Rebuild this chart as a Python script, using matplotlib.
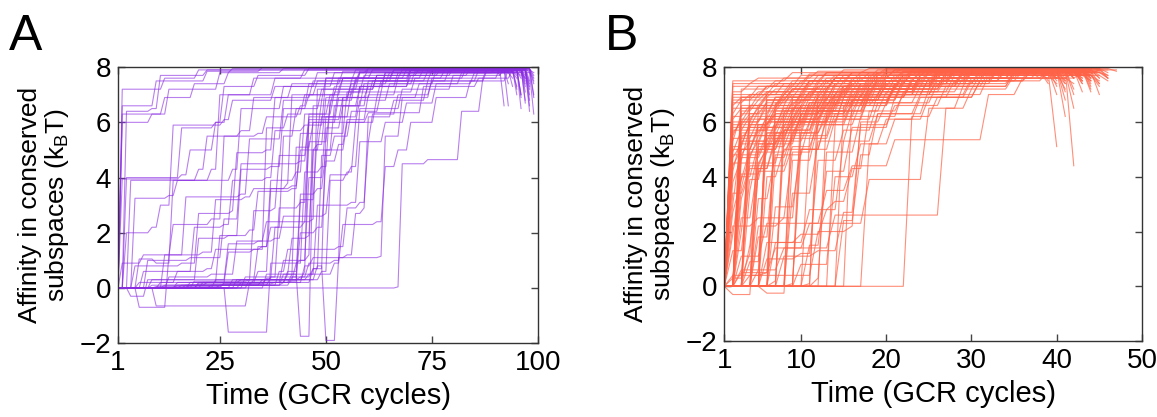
import matplotlib
matplotlib.use('Agg')
import matplotlib.pyplot as plt

plt.rcParams['font.family'] = ['Liberation Sans', 'DejaVu Sans']
plt.rcParams['mathtext.default'] = 'regular'

# each trajectory: (cycle, affinity) knots, value is held until the next knot's ramp
traj_a = [
    [(1, 0), (2, 6.3), (13, 7.2), (25, 7.8), (28, 7.95), (96, 6.9)],
    [(1, 0), (2, 6.6), (10, 7.5), (22, 7.85), (35, 7.98), (98, 7.5)],
    [(1, 0), (2, 3.95), (16, 4.1), (18, 5.0), (24, 6.0), (27, 7.0), (33, 7.6), (45, 7.9), (93, 6.6)],
    [(1, 0), (5, 3.25), (13, 3.35), (15, 3.9), (28, 4.3), (30, 6.5), (40, 7.3), (52, 7.8), (99, 6.3)],
    [(1, 0), (6, 1.05), (10, 0.9), (14, 3.9), (23, 4.3), (25, 7.0), (38, 7.6), (60, 7.95), (95, 7.2)],
    [(1, 0), (6, -0.7), (12, -0.7), (13, 1.2), (17, 3.3), (30, 3.4), (32, 5.4), (40, 6.8), (50, 7.6), (70, 7.95), (97, 7.4)],
    [(1, 0), (10, -0.65), (31, -0.65), (32, 0.2), (42, 0.25), (44, 3.2), (48, 5.6), (55, 7.1), (64, 7.8), (90, 7.95), (98, 6.8)],
    [(1, 0), (27, -1.6), (36, -1.6), (37, 0.9), (44, 1.0), (46, 4.0), (50, 6.2), (58, 7.3), (70, 7.9), (96, 7.0)],
    [(1, 0), (20, 0.2), (42, 0.5), (44, -1.75), (46, -1.75), (47, 5.0), (52, 6.6), (60, 7.5), (75, 7.9), (97, 7.7)],
    [(1, 0), (18, 0.1), (35, 0.3), (48, 0.8), (50, -1.9), (52, -1.9), (53, 1.1), (63, 1.15), (64, 5.5), (68, 6.9), (75, 7.6), (88, 7.95), (99, 7.6)],
    [(1, 0), (67, 0.04), (68, 4.5), (74, 4.65), (82, 6.4), (87, 7.6), (94, 7.9), (98, 7.3)],
    [(1, 0), (8, 1.0), (18, 1.1), (26, 2.5), (30, 4.5), (44, 4.6), (46, 6.0), (60, 6.35), (73, 7.3), (86, 7.6), (91, 7.95), (97, 6.7)],
    [(1, 0), (3, 6.4), (9, 6.5), (11, 7.7), (22, 7.9), (92, 6.6)],
    [(1, 0), (12, 0.1), (22, 0.2), (25, 1.9), (32, 2.1), (34, 3.5), (42, 3.6), (44, 5.6), (49, 6.8), (56, 7.5), (66, 7.9), (95, 7.0)],
    [(1, 0), (15, 0.2), (30, 0.3), (33, 2.8), (38, 2.9), (39, 4.8), (46, 6.2), (53, 7.2), (62, 7.7), (80, 7.95), (96, 7.8)],
    [(1, 0), (5, 0.8), (16, 0.9), (20, 2.7), (28, 2.8), (29, 4.9), (36, 5.0), (38, 6.9), (47, 7.5), (57, 7.9), (93, 7.4)],
    [(1, 0), (7, 0.6), (22, 0.7), (24, 1.4), (35, 1.5), (37, 3.9), (43, 4.2), (45, 6.3), (52, 7.1), (59, 7.7), (72, 7.95), (99, 7.0)],
    [(1, 0), (20, 0.15), (36, 0.35), (38, 2.2), (45, 2.4), (46, 5.3), (51, 6.6), (58, 7.3), (67, 7.8), (94, 7.6)],
    [(1, 0), (3, 2.0), (9, 2.2), (11, 3.0), (14, 5.9), (26, 6.1), (28, 6.8), (38, 7.3), (48, 7.8), (60, 7.95), (97, 7.1)],
    [(1, 0), (4, 3.9), (18, 3.9), (20, 4.3), (22, 5.5), (30, 5.7), (33, 6.9), (42, 7.4), (54, 7.85), (98, 7.2)],
    [(1, 0), (11, 0.2), (25, 0.2), (27, 1.3), (33, 1.4), (36, 5.8), (41, 6.3), (45, 7.0), (53, 7.6), (68, 7.9), (96, 6.5)],
    [(1, 0), (16, 0.1), (40, 0.5), (42, 1.8), (46, 1.9), (47, 5.0), (49, 6.2), (56, 7.2), (62, 7.7), (77, 7.95), (99, 7.7)],
    [(1, 0), (19, 0.25), (32, 0.3), (34, 1.5), (37, 2.2), (40, 5.5), (43, 6.5), (49, 7.2), (58, 7.8), (93, 7.9)],
    [(1, 0), (24, 0.3), (44, 0.4), (46, 0.9), (52, 1.0), (54, 6.9), (60, 7.3), (70, 7.7), (84, 7.95), (97, 7.5)],
    [(1, 0), (14, 0.0), (30, 0.2), (41, 0.6), (44, 3.4), (48, 3.6), (50, 5.0), (55, 6.0), (58, 6.8), (65, 7.4), (76, 7.9), (98, 6.6)],
    [(1, 0), (12, 1.2), (21, 1.3), (24, 3.2), (31, 3.3), (33, 3.6), (41, 3.8), (42, 7.0), (48, 7.5), (58, 7.85), (95, 7.3)],
    [(1, 0), (9, 0.3), (27, 1.6), (34, 1.7), (36, 2.4), (47, 2.5), (48, 7.2), (54, 7.6), (66, 7.9), (99, 7.8)],
    [(1, 0), (17, 0.1), (39, 0.6), (41, 1.4), (53, 1.5), (55, 2.9), (58, 3.1), (60, 5.3), (64, 6.0), (69, 6.7), (76, 7.4), (85, 7.8), (97, 7.6)],
    [(1, 0), (21, 0.2), (45, 0.8), (47, 1.1), (55, 1.2), (57, 2.7), (59, 2.9), (60, 6.2), (66, 6.8), (74, 7.5), (86, 7.9), (96, 7.0)],
    [(1, 0), (13, 0.4), (23, 0.5), (29, 1.7), (38, 1.8), (40, 2.6), (50, 2.7), (51, 4.1), (56, 4.4), (58, 6.5), (68, 7.2), (80, 7.7), (92, 7.95), (99, 6.9)],
    [(1, 0), (2, 0.9), (7, 1.2), (14, 2.3), (23, 2.5), (26, 5.5), (34, 5.6), (36, 6.2), (44, 6.6), (46, 7.4), (58, 7.8), (95, 7.6)],
    [(1, 0), (3, 4.0), (12, 4.0), (16, 5.8), (24, 6.0), (26, 7.3), (34, 7.7), (46, 7.95), (97, 7.9)],
    [(1, 0), (2, 7.2), (12, 7.6), (20, 7.9), (94, 7.3)],
    [(1, 0), (29, 0.3), (49, 0.6), (51, 3.9), (55, 4.2), (57, 6.0), (62, 6.9), (72, 7.4), (82, 7.8), (96, 7.7)],
    [(1, 0), (23, 0.1), (42, 0.4), (44, 2.0), (48, 2.2), (50, 4.6), (53, 5.2), (55, 6.1), (60, 7.0), (67, 7.6), (78, 7.9), (98, 7.4)],
    [(1, 0), (31, 0.4), (47, 0.7), (49, 4.8), (52, 5.5), (56, 6.4), (63, 7.1), (71, 7.6), (83, 7.95), (97, 6.8)],
    [(1, 0), (6, 0.2), (15, 0.6), (19, 2.2), (26, 2.3), (28, 3.9), (36, 4.0), (38, 5.7), (45, 5.9), (50, 7.6), (61, 7.9), (99, 7.5)],
    [(1, 0), (10, 0.05), (26, 0.15), (38, 0.2), (40, 1.0), (46, 1.2), (47, 6.6), (52, 7.3), (64, 7.8), (80, 7.95), (94, 7.8)],
    [(1, 0), (9, 0.1), (33, 0.3), (46, 0.5), (48, 3.0), (56, 3.1), (58, 5.3), (61, 6.3), (67, 7.0), (75, 7.5), (88, 7.9), (99, 7.4)],
    [(1, 0), (2, 6.0), (9, 6.3), (12, 6.9), (19, 7.4), (27, 7.8), (40, 7.95), (91, 7.7)],
    [(1, 0), (4, -0.3), (8, 0.3), (20, 1.8), (27, 1.9), (30, 4.3), (37, 4.4), (40, 6.5), (46, 7.0), (54, 7.6), (69, 7.9), (97, 7.6)],
    [(1, 0), (36, 0.5), (52, 0.9), (54, 2.3), (62, 2.4), (64, 4.4), (67, 5.0), (70, 6.0), (76, 6.9), (84, 7.5), (93, 7.9), (98, 6.4)],
    [(1, 0), (25, 0.1), (40, 0.2), (47, 0.7), (50, 5.8), (54, 6.6), (59, 7.4), (71, 7.85), (96, 7.6)],
    [(1, 0), (18, 0.2), (34, 0.6), (37, 3.6), (42, 3.7), (44, 5.0), (48, 5.2), (50, 6.9), (56, 7.4), (65, 7.8), (92, 7.9)],
    [(1, 0), (28, 0.3), (43, 0.9), (45, 4.2), (49, 4.4), (51, 6.8), (57, 7.5), (70, 7.9), (98, 7.0)],
    [(1, 0), (26, 0.2), (41, 0.5), (43, 5.1), (47, 6.0), (53, 6.9), (61, 7.5), (74, 7.85), (95, 7.7)],
    [(1, 0), (32, 0.3), (45, 0.6), (46, 6.3), (51, 7.0), (57, 7.6), (73, 7.95), (98, 7.8)],
    [(1, 0), (15, 0.1), (37, 0.4), (39, 2.9), (44, 3.1), (46, 6.1), (54, 6.9), (63, 7.5), (79, 7.9), (97, 7.3)],
]

traj_b = [
    [(1, 0), (2, 7.5), (9, 7.8), (18, 7.95), (41, 7.7)],
    [(1, 0), (2, 6.9), (5, 7.3), (12, 7.7), (25, 7.9), (43, 7.4)],
    [(1, 0), (2, 6.2), (4, 6.6), (8, 7.1), (14, 7.6), (22, 7.85), (40, 7.6)],
    [(1, 0), (2, 5.6), (3, 6.0), (6, 6.8), (11, 7.4), (19, 7.8), (44, 7.5)],
    [(1, 0), (2, 5.0), (5, 5.9), (7, 6.5), (13, 7.2), (20, 7.6), (30, 7.9), (42, 7.2)],
    [(1, 0), (2, 4.8), (4, 5.3), (9, 6.4), (15, 7.1), (24, 7.7), (39, 7.8)],
    [(1, 0), (2, 4.2), (3, 5.5), (8, 6.2), (12, 6.9), (18, 7.5), (28, 7.85), (45, 7.0)],
    [(1, 0), (2, 6.5), (6, 6.9), (10, 7.3), (17, 7.7), (27, 7.95), (46, 7.8)],
    [(1, 0), (2, 5.9), (7, 6.3), (9, 6.9), (16, 7.3), (21, 7.7), (35, 7.9), (41, 6.2)],
    [(1, 0), (2, 7.1), (4, 7.4), (11, 7.75), (20, 7.95), (38, 7.8)],
    [(1, 0), (3, 4.6), (4, 5.8), (8, 6.6), (15, 7.3), (26, 7.8), (40, 5.1)],
    [(1, 0), (3, 5.3), (6, 6.1), (10, 6.8), (14, 7.4), (23, 7.85), (43, 7.6)],
    [(1, 0), (3, 6.4), (5, 6.8), (9, 7.2), (13, 7.6), (19, 7.9), (42, 4.4)],
    [(1, 0), (3, 3.6), (4, 4.9), (7, 5.6), (11, 6.4), (17, 7.0), (25, 7.6), (33, 7.95), (44, 7.3)],
    [(1, 0), (3, 2.5), (5, 4.5), (8, 5.7), (12, 6.6), (18, 7.3), (29, 7.8), (41, 7.5)],
    [(1, 0), (2, 1.3), (4, 3.9), (6, 5.2), (10, 6.3), (16, 7.1), (24, 7.6), (37, 7.9), (43, 7.7)],
    [(1, 0), (2, -0.3), (4, -0.3), (5, 4.4), (9, 5.5), (14, 6.7), (21, 7.4), (31, 7.9), (42, 7.6)],
    [(1, 0), (2, 0.3), (4, 1.2), (5, 5.1), (7, 6.0), (12, 7.0), (20, 7.7), (40, 7.4)],
    [(1, 0), (5, 3.2), (7, 4.8), (11, 6.0), (15, 6.9), (22, 7.5), (32, 7.9), (45, 7.6)],
    [(1, 0), (4, 0.9), (6, 5.8), (9, 6.5), (13, 7.1), (19, 7.6), (27, 7.9), (44, 7.8)],
    [(1, 0), (6, 4.0), (8, 5.0), (13, 6.2), (17, 7.0), (26, 7.6), (36, 7.9), (47, 7.9)],
    [(1, 0), (5, 1.8), (7, 5.4), (10, 6.2), (14, 6.9), (23, 7.5), (34, 7.85), (42, 6.5)],
    [(1, 0), (6, -0.25), (8, -0.25), (9, 4.6), (12, 5.9), (16, 6.7), (21, 7.3), (30, 7.8), (43, 7.7)],
    [(1, 0), (7, 2.9), (10, 5.0), (13, 6.1), (18, 7.0), (25, 7.6), (35, 7.9), (41, 7.5)],
    [(1, 0), (7, 0.2), (8, 5.7), (11, 6.5), (15, 7.2), (22, 7.7), (45, 7.4)],
    [(1, 0), (9, 3.4), (12, 5.3), (16, 6.4), (20, 7.1), (28, 7.7), (46, 7.5)],
    [(1, 0), (9, 0.1), (10, 5.0), (14, 6.1), (19, 7.0), (26, 7.5), (33, 7.9), (40, 7.6)],
    [(1, 0), (11, 1.5), (13, 4.2), (16, 5.8), (21, 6.9), (28, 7.5), (37, 7.85), (44, 7.6)],
    [(1, 0), (11, 0.1), (12, 6.0), (16, 6.8), (22, 7.4), (30, 7.8), (42, 7.7)],
    [(1, 0), (12, 0.3), (13, 4.9), (17, 6.2), (22, 7.1), (29, 7.6), (43, 7.8)],
    [(1, 0), (15, 2.4), (17, 4.8), (19, 6.3), (25, 7.2), (31, 7.7), (41, 7.4)],
    [(1, 0), (3, 0.6), (8, 1.4), (14, 2.6), (27, 6.5), (30, 7.2), (35, 7.7), (44, 7.5)],
    [(1, 0), (18, 5.2), (21, 6.1), (25, 6.9), (30, 7.5), (37, 7.9), (45, 7.6)],
    [(1, 0), (23, 6.2), (26, 6.9), (31, 7.5), (36, 7.85), (44, 7.7)],
    [(1, 0), (3, 1.1), (6, 2.3), (13, 3.5), (16, 4.4), (21, 5.35), (32, 7.0), (36, 7.6), (42, 7.8)],
    [(1, 0), (3, 0.5), (7, 1.4), (11, 2.3), (18, 3.9), (25, 6.5), (29, 7.3), (35, 7.8), (41, 7.2)],
    [(1, 0), (2, 2.2), (5, 2.5), (9, 4.9), (12, 6.2), (16, 6.6), (21, 7.3), (27, 7.8), (39, 7.9)],
    [(1, 0), (2, 3.0), (3, 5.4), (5, 6.1), (10, 6.6), (14, 7.0), (20, 7.5), (26, 7.9), (43, 7.1)],
    [(1, 0), (2, 5.3), (3, 6.3), (6, 6.7), (9, 7.0), (15, 7.5), (24, 7.8), (40, 7.7)],
    [(1, 0), (2, 4.5), (6, 5.0), (8, 5.9), (11, 6.7), (17, 7.4), (28, 7.9), (42, 7.0)],
    [(1, 0), (2, 6.7), (4, 7.0), (7, 7.4), (13, 7.8), (33, 7.95), (46, 7.6)],
    [(1, 0), (2, 5.8), (5, 6.4), (8, 6.8), (12, 7.3), (19, 7.7), (31, 7.9), (41, 6.8)],
    [(1, 0), (2, 3.8), (3, 4.7), (5, 5.5), (9, 6.0), (13, 6.8), (20, 7.4), (29, 7.85), (44, 7.4)],
    [(1, 0), (2, 7.3), (8, 7.6), (15, 7.9), (39, 7.5)],
    [(1, 0), (3, 5.9), (4, 6.3), (7, 6.9), (11, 7.5), (18, 7.8), (42, 7.9)],
    [(1, 0), (3, 4.1), (6, 4.9), (9, 5.4), (12, 6.4), (18, 7.2), (26, 7.7), (40, 7.6)],
    [(1, 0), (3, 6.9), (7, 7.2), (14, 7.6), (21, 7.9), (45, 7.7)],
    [(1, 0), (3, 2.0), (4, 4.8), (6, 5.6), (10, 6.1), (14, 6.8), (22, 7.6), (38, 7.9)],
    [(1, 0), (4, 5.5), (6, 6.2), (11, 6.9), (16, 7.4), (25, 7.85), (43, 7.5)],
    [(1, 0), (4, 6.6), (8, 7.0), (12, 7.5), (20, 7.85), (41, 7.8)],
    [(1, 0), (4, 1.5), (5, 4.2), (9, 5.1), (12, 5.9), (15, 6.9), (23, 7.5), (34, 7.9), (44, 7.2)],
    [(1, 0), (5, 0.6), (6, 6.0), (10, 6.6), (15, 7.2), (24, 7.7), (39, 7.6)],
    [(1, 0), (5, 5.2), (8, 5.8), (10, 6.5), (14, 7.3), (22, 7.8), (43, 7.9)],
    [(1, 0), (5, 2.2), (8, 2.5), (10, 5.6), (13, 6.4), (18, 7.1), (27, 7.6), (42, 7.4)],
    [(1, 0), (6, 6.8), (9, 7.2), (14, 7.6), (23, 7.9), (46, 7.7)],
    [(1, 0), (6, 1.0), (10, 1.2), (12, 4.6), (15, 5.7), (19, 6.7), (24, 7.3), (32, 7.8), (43, 7.6)],
    [(1, 0), (7, 5.9), (10, 6.4), (14, 7.0), (20, 7.5), (30, 7.9), (41, 7.1)],
    [(1, 0), (7, 1.6), (10, 1.9), (13, 2.8), (15, 5.3), (19, 6.3), (24, 7.0), (32, 7.7), (45, 7.3)],
    [(1, 0), (8, 6.4), (12, 6.9), (17, 7.4), (26, 7.85), (42, 7.8)],
    [(1, 0), (8, 1.1), (12, 1.3), (15, 2.7), (17, 5.9), (21, 6.6), (27, 7.3), (35, 7.8), (40, 7.6)],
    [(1, 0), (9, 6.1), (13, 6.6), (18, 7.2), (27, 7.7), (44, 7.9)],
    [(1, 0), (10, 0.8), (14, 4.0), (17, 5.2), (20, 6.1), (24, 6.9), (31, 7.5), (39, 7.85), (45, 7.4)],
    [(1, 0), (10, 5.6), (13, 6.2), (18, 6.9), (23, 7.4), (31, 7.8), (43, 7.5)],
    [(1, 0), (4, 0.4), (12, 2.0), (16, 2.2), (17, 6.0), (20, 6.7), (26, 7.4), (33, 7.85), (42, 7.7)],
    [(1, 0), (13, 6.3), (16, 6.8), (21, 7.3), (29, 7.75), (45, 7.9)],
    [(1, 0), (6, 1.6), (11, 2.8), (14, 3.1), (16, 4.3), (18, 6.4), (22, 7.0), (30, 7.6), (39, 7.9), (44, 7.1)],
    [(1, 0), (15, 6.6), (19, 7.0), (24, 7.5), (33, 7.85), (46, 7.6)],
    [(1, 0), (2, 6.1), (3, 6.5), (5, 7.0), (9, 7.4), (16, 7.8), (37, 7.9)],
    [(1, 0), (2, 4.9), (3, 5.7), (7, 6.3), (10, 7.0), (18, 7.6), (30, 7.95), (41, 7.8)],
    [(1, 0), (2, 6.0), (4, 6.5), (6, 7.0), (11, 7.5), (23, 7.9), (44, 7.6)],
    [(1, 0), (2, 5.4), (4, 5.8), (7, 6.4), (10, 7.1), (16, 7.6), (28, 7.9), (40, 7.7)],
    [(1, 0), (3, 5.0), (5, 5.7), (8, 6.3), (13, 7.0), (19, 7.6), (32, 7.9), (42, 7.6)],
    [(1, 0), (3, 3.2), (4, 4.3), (7, 5.3), (10, 6.0), (14, 6.6), (21, 7.4), (35, 7.85), (43, 7.7)],
    [(1, 0), (4, 4.7), (6, 5.4), (9, 6.1), (13, 6.9), (19, 7.5), (30, 7.8), (41, 7.9)],
    [(1, 0), (2, 0.4), (6, 0.5), (7, 6.4), (10, 6.8), (15, 7.3), (25, 7.8), (44, 7.7)],
    [(1, 0), (2, 7.0), (6, 7.3), (10, 7.7), (26, 7.95), (40, 7.3)],
    [(1, 0), (3, 6.0), (5, 6.6), (10, 7.0), (15, 7.3), (22, 7.7), (43, 7.8)],
    [(1, 0), (2, 6.3), (3, 6.8), (6, 7.1), (10, 7.5), (17, 7.8), (29, 7.95), (42, 7.9)],
    [(1, 0), (2, 5.1), (4, 6.0), (6, 6.6), (9, 7.2), (14, 7.6), (21, 7.9), (39, 7.7)],
    [(1, 0), (2, 4.4), (3, 5.0), (5, 5.8), (8, 6.5), (12, 7.1), (18, 7.7), (33, 7.9), (45, 7.8)],
    [(1, 0), (2, 6.8), (5, 7.1), (9, 7.5), (16, 7.8), (28, 7.95), (43, 7.5)],
    [(1, 0), (2, 5.7), (4, 6.2), (7, 6.9), (12, 7.4), (20, 7.8), (38, 7.6)],
    [(1, 0), (2, 7.4), (5, 7.6), (12, 7.85), (31, 7.95), (44, 7.9)],
    [(1, 0), (3, 6.6), (6, 7.0), (9, 7.3), (15, 7.7), (24, 7.9), (41, 7.4)],
    [(1, 0), (3, 4.8), (5, 5.3), (7, 6.0), (11, 6.7), (17, 7.3), (26, 7.8), (46, 7.6)],
    [(1, 0), (3, 5.6), (6, 6.2), (9, 6.7), (13, 7.2), (22, 7.7), (34, 7.9), (40, 7.0)],
    [(1, 0), (4, 6.1), (7, 6.6), (11, 7.1), (17, 7.6), (27, 7.9), (42, 7.8)],
    [(1, 0), (4, 3.5), (5, 5.0), (8, 5.7), (12, 6.5), (16, 7.2), (24, 7.7), (37, 7.95), (44, 7.6)],
    [(1, 0), (4, 7.0), (8, 7.4), (14, 7.7), (25, 7.95), (41, 7.9)],
    [(1, 0), (5, 6.5), (8, 6.9), (12, 7.3), (19, 7.7), (30, 7.9), (43, 7.7)],
    [(1, 0), (5, 4.3), (7, 5.5), (10, 6.3), (14, 7.0), (21, 7.6), (32, 7.9), (40, 7.5)],
    [(1, 0), (6, 5.6), (9, 6.3), (13, 6.9), (18, 7.4), (26, 7.8), (45, 7.9)],
    [(1, 0), (6, 7.1), (11, 7.5), (19, 7.8), (30, 7.95), (42, 7.6)],
    [(1, 0), (7, 4.7), (9, 5.6), (12, 6.4), (16, 7.0), (23, 7.6), (34, 7.9), (44, 7.8)],
    [(1, 0), (7, 6.7), (11, 7.1), (16, 7.5), (24, 7.85), (39, 7.7)],
    [(1, 0), (8, 5.3), (11, 6.0), (14, 6.8), (20, 7.4), (28, 7.8), (46, 7.7)],
    [(1, 0), (9, 6.9), (13, 7.3), (20, 7.7), (31, 7.95), (43, 7.8)],
    [(1, 0), (10, 6.6), (14, 7.0), (19, 7.5), (28, 7.9), (41, 7.6)],
    [(1, 0), (11, 5.4), (14, 6.3), (18, 7.0), (24, 7.6), (35, 7.9), (44, 7.5)],
    [(1, 0), (12, 7.0), (16, 7.4), (23, 7.75), (32, 7.95), (45, 7.9)],
    [(1, 0), (14, 5.9), (17, 6.7), (21, 7.2), (27, 7.7), (36, 7.9), (42, 7.7)],
    [(1, 0), (16, 6.9), (20, 7.3), (26, 7.7), (34, 7.95), (47, 7.85)],
    [(1, 0), (2, 3.4), (4, 4.4), (6, 5.1), (9, 5.9), (13, 6.7), (19, 7.4), (29, 7.85), (40, 7.8)],
    [(1, 0), (2, 5.5), (3, 6.1), (5, 6.5), (8, 7.0), (13, 7.5), (22, 7.85), (43, 7.4)],
    [(1, 0), (2, 6.6), (3, 6.9), (6, 7.3), (11, 7.7), (20, 7.9), (46, 7.9)],
    [(1, 0), (2, 4.7), (3, 5.2), (6, 6.0), (9, 6.8), (14, 7.4), (23, 7.8), (41, 7.9)],
    [(1, 0), (3, 5.2), (4, 5.9), (7, 6.5), (11, 7.0), (16, 7.5), (25, 7.85), (39, 7.4)],
    [(1, 0), (3, 7.2), (7, 7.5), (13, 7.8), (22, 7.95), (44, 7.7)],
    [(1, 0), (2, 1.9), (3, 4.0), (5, 5.2), (8, 6.0), (12, 6.7), (18, 7.3), (27, 7.8), (42, 7.9)],
    [(1, 0), (2, 2.7), (3, 3.9), (4, 5.0), (7, 5.8), (11, 6.6), (17, 7.2), (26, 7.7), (45, 7.5)],
]

purple = '#8a2be2'
tomato = '#ff6347'


def path(knots):
    # hold each level, then climb to the next one over a single cycle
    xs, ys = [knots[0][0]], [knots[0][1]]
    for t, y in knots[1:]:
        if t - 1 > xs[-1]:
            xs.append(t - 1)
            ys.append(ys[-1])
        xs.append(t)
        ys.append(y)
    return xs, ys


def style(ax, xmax, xticks):
    ax.set_xlim(1, xmax)
    ax.set_ylim(-2, 8)
    ax.set_xticks(xticks)
    ax.set_yticks([-2, 0, 2, 4, 6, 8])
    ax.tick_params(direction='in', length=5, width=1, top=True, right=True,
                   labelsize=20, colors='#444444', labelcolor='black', pad=5)
    for s in ax.spines.values():
        s.set_color('#333333')
        s.set_linewidth(1)
    ax.set_xlabel('Time (GCR cycles)', fontsize=21, labelpad=4)
    ax.set_ylabel('Affinity in conserved\nsubspaces (k$_B$T)', fontsize=19, labelpad=6,
                  linespacing=1.05)


fig = plt.figure(figsize=(11.57, 4.17), dpi=100)
ax1 = fig.add_axes([0.102, 0.177, 0.363, 0.662])
ax2 = fig.add_axes([0.626, 0.182, 0.361, 0.657])

for k in traj_a:
    xs, ys = path(k)
    ax1.plot(xs, ys, color=purple, lw=0.8, alpha=0.6)
for k in traj_b:
    xs, ys = path(k)
    ax2.plot(xs, ys, color=tomato, lw=0.8, alpha=0.72)

style(ax1, 100, [1, 25, 50, 75, 100])
style(ax2, 50, [1, 10, 20, 30, 40, 50])

fig.text(0.008, 0.88, 'A', fontsize=36)
fig.text(0.523, 0.88, 'B', fontsize=36)

fig.savefig('out.png', dpi=100)
